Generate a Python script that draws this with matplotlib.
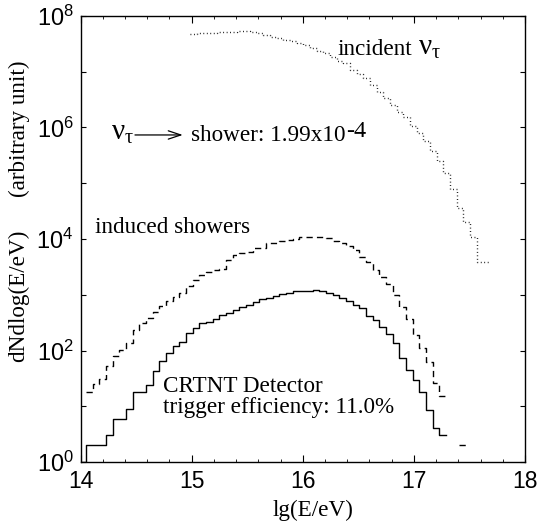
import numpy as np
import matplotlib
matplotlib.use("Agg")
import matplotlib.pyplot as plt
from matplotlib.ticker import FixedLocator, MultipleLocator, FuncFormatter

plt.rcParams['font.family'] = 'Liberation Sans'
plt.rcParams['mathtext.fontset'] = 'custom'
plt.rcParams['mathtext.rm'] = 'Liberation Serif'
plt.rcParams['mathtext.it'] = 'Liberation Serif'

# bins of 0.06 in lg(E/eV)
bin_w = 0.06
solid_start = 13.99   # first bin is the empty one sitting on the axis
dotted_start = 14.985

# CRTNT triggered showers (solid)
triggered = [1.0,
             2.0, 2.0, 2.0, 3.0, 5.8, 5.8, 8.8, 17.8, 17.8, 24,
             43, 65, 91, 120, 144, 204, 257, 309, 326, 365,
             433, 476, 532, 595, 655, 750, 835, 885, 950, 1025,
             1090, 1150, 1150, 1165, 1220, 1165, 1090, 990, 863, 772,
             655, 571, 410, 354, 267, 198, 138, 72, 45, 29.6,
             18.3, 8.6, 4.0, 3.0]

# induced showers (dashed), nan = empty bin
induced = [18, 25, 31, 53, 80, 102, 134, 234, 308, 377,
           484, 630, 780, 900, 1065, 1440, 1850, 2260, 2590, 2770,
           2860, 4200, 5150, 5530, 5900, 6820, 6820, 8350, 8350, 9300,
           9600, 9900, 10700, 10700, 11000, 10700, 10300, 9300, 8350, 7450,
           6330, 4800, 3870, 2820, 2115, 1580, 990, 612, 367, 190,
           113, 62, 25.9, 15.3, np.nan, np.nan, 2.0]

# incident nu_tau (dotted), log10 values
incident_log = [7.68, 7.69, 7.695, 7.70, 7.71, 7.715, 7.72, 7.73, 7.73, 7.72,
                7.70, 7.66, 7.63, 7.60, 7.575, 7.55, 7.52, 7.48, 7.43, 7.37,
                7.33, 7.26, 7.19, 7.15, 7.03, 6.96, 6.88, 6.76, 6.63, 6.52,
                6.40, 6.27, 6.18, 6.03, 5.90, 5.75, 5.58, 5.39, 5.18, 4.90,
                4.55, 4.30, 4.04, 3.59, 3.59]


def step(ax, start, vals, **kw):
    vals = np.asarray(vals, dtype=float)
    edges = start + bin_w * np.arange(len(vals) + 1)
    ax.plot(edges, np.append(vals, vals[-1]), drawstyle='steps-post', **kw)


fig = plt.figure(figsize=(5.39, 5.24), dpi=100)
ax = fig.add_axes([0.1494, 0.1183, 0.8246, 0.8512])

step(ax, dotted_start, 10 ** np.array(incident_log), color='black', lw=1.0,
     linestyle=(0, (0.6, 1.9)))
step(ax, solid_start + bin_w, induced, color='black', lw=1.0,
     linestyle=(0, (4.5, 3.0)))
step(ax, solid_start, triggered, color='black', lw=1.0)

ax.set_yscale('log')
ax.set_xlim(14, 18)
ax.set_ylim(1, 1e8)

ax.xaxis.set_major_locator(MultipleLocator(1))
ax.xaxis.set_minor_locator(MultipleLocator(0.2))
ax.yaxis.set_major_locator(FixedLocator([10.0 ** k for k in range(9)]))
ax.yaxis.set_minor_locator(FixedLocator([]))
ax.yaxis.set_major_formatter(FuncFormatter(
    lambda v, p: r'$\mathdefault{10^{%d}}$' % round(np.log10(v)) if round(np.log10(v)) % 2 == 0 else ''))

ax.tick_params(which='both', direction='in', top=True, right=True)
ax.tick_params(axis='x', which='major', length=5, pad=6, labelsize=16.5)
ax.tick_params(axis='x', which='minor', length=2.5)
ax.tick_params(axis='y', which='major', length=3.5, pad=5, labelsize=17)
for s in ax.spines.values():
    s.set_linewidth(1.0)

serif = dict(family='Liberation Serif', size=16.7)
nu = dict(family='Liberation Serif', size=21)
ax.text(16.308, 10 ** 7.30, 'incident', **serif)
ax.text(17.04, 10 ** 7.30, r'$\nu_\tau$', **nu)
ax.text(14.27, 10 ** 5.776, r'$\nu_\tau$', **nu)
ax.annotate('', xy=(14.92, 10 ** 5.866), xytext=(14.49, 10 ** 5.866),
            arrowprops=dict(arrowstyle='->,head_length=0.6,head_width=0.2',
                            lw=0.9, color='black', mutation_scale=15,
                            shrinkA=0, shrinkB=0))
ax.text(14.994, 10 ** 5.76, 'shower: 1.99x10', **serif)
ax.text(16.39, 10 ** 5.83, '-4', family='Liberation Serif', size=17.5)
ax.text(14.13, 10 ** 4.11, 'induced showers', **serif)
ax.text(14.74, 10 ** 1.26, 'CRTNT Detector', **serif)
ax.text(14.74, 10 ** 0.88, 'trigger efficiency: 11.0%', **serif)

fig.text(313 / 539, 1 - 510 / 524, 'lg(E/eV)', ha='center', va='center', **serif)
fig.text(19 / 539, 1 - 296 / 524, 'dNdlog(E/eV)', ha='center', va='center',
         rotation=90, **serif)
fig.text(19 / 539, 1 - 128.5 / 524, '(arbitrary unit)', ha='center', va='center',
         rotation=90, **serif)

fig.savefig('out.png', dpi=100)
